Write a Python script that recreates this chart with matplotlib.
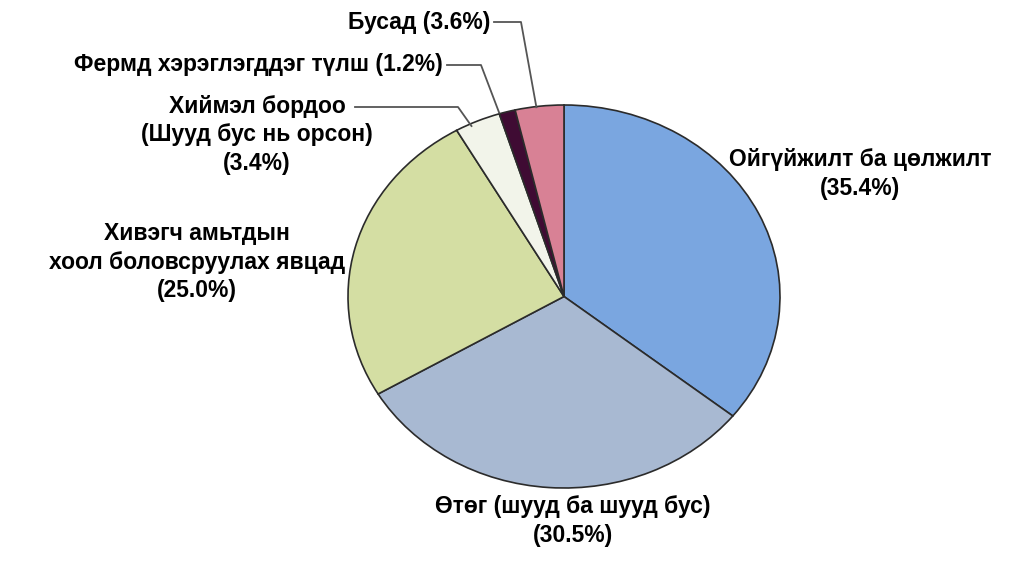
import numpy as np
import matplotlib
matplotlib.use('Agg')
import matplotlib.pyplot as plt

# data
labels = ['Ойгүйжилт ба цөлжилт\n(35.4%)',
          'Өтөг (шууд ба шууд бус)\n(30.5%)',
          'Хивэгч амьтдын\nхоол боловсруулах явцад\n(25.0%)',
          'Хиймэл бордоо\n(Шууд бус нь орсон)\n(3.4%)',
          'Фермд хэрэглэгддэг түлш (1.2%)',
          'Бусад (3.6%)']
values = [35.4, 30.5, 25.0, 3.4, 1.2, 3.6]
colors = ['#7AA6E0', '#A8B9D2', '#D4DEA3', '#F2F4EA', '#3F0B33', '#D88195']

W, H = 1024, 568
# pie ellipse in pixels (slightly squashed like the original)
cx, cy, rx, ry = 564, 296.5, 216, 191.5

fig = plt.figure(figsize=(W / 100, H / 100), dpi=100)
ax = fig.add_axes([(cx - rx) / W, (H - cy - ry) / H, 2 * rx / W, 2 * ry / H])
wedges, _ = ax.pie(values, colors=colors, startangle=90, counterclock=False,
                   radius=1, wedgeprops=dict(edgecolor='#2b2b2b', linewidth=1.2))
ax.set_aspect('auto')
ax.set_xlim(-1, 1)
ax.set_ylim(-1, 1)
ax.axis('off')

# overlay for labels, pixel coords
ov = fig.add_axes([0, 0, 1, 1])
ov.set_xlim(0, W)
ov.set_ylim(H, 0)
ov.axis('off')

font = dict(fontsize=16.5, fontweight='bold', family=['Liberation Sans', 'DejaVu Sans'],
            color='black', linespacing=1.3)

def anchor(i):
    w = wedges[i]
    th = np.deg2rad((w.theta1 + w.theta2) / 2)
    return cx + rx * np.cos(th), cy - ry * np.sin(th)

# big labels
ov.text(860, 174, labels[0], ha='center', va='center', **font)
ov.text(573, 521, labels[1], ha='center', va='center', **font)
ov.text(197, 262, labels[2], ha='center', va='center', **font)
ov.text(257, 135, labels[3], ha='center', va='center', **font)
ov.text(443, 65, labels[4], ha='right', va='center', **font)
ov.text(490, 22, labels[5], ha='right', va='center', **font)

# leader lines
lc = dict(color='#555555', linewidth=1.3)
ax_, ay_ = anchor(5)
ov.plot([494, 521, ax_ - 3, ], [22, 22, ay_ + 1], **lc)
ax_, ay_ = anchor(4)
ov.plot([447, 481, ax_ - 8], [65, 65, ay_ + 1], **lc)
ax_, ay_ = anchor(3)
ov.plot([355, 458, ax_ - 6], [107, 107, ay_ + 5], **lc)

fig.savefig('out.png', dpi=100)
